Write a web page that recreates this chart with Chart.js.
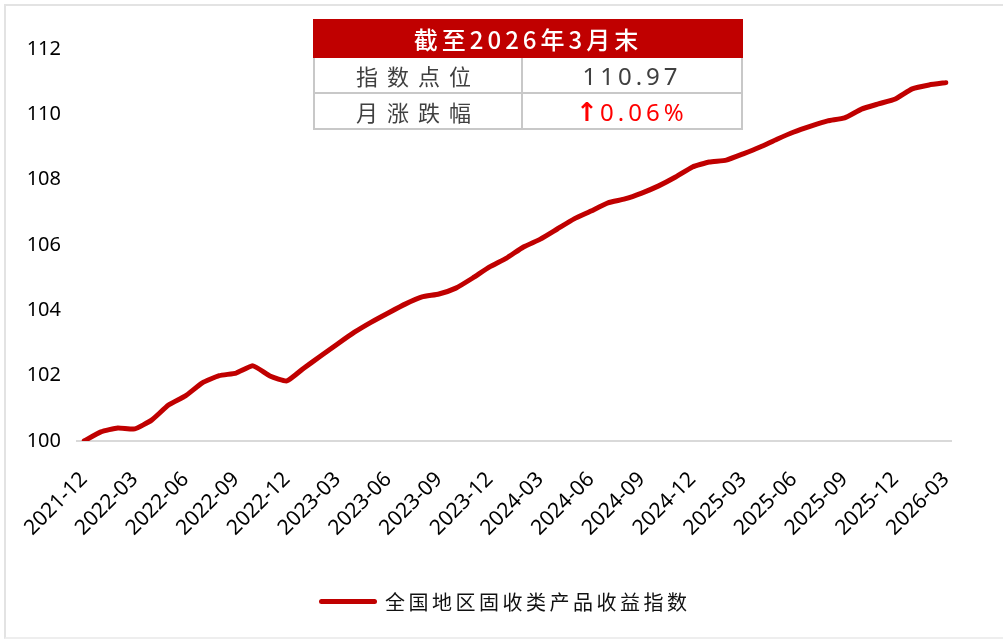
<!DOCTYPE html>
<html>
<head>
<meta charset="utf-8">
<script src="https://cdn.jsdelivr.net/npm/chart.js@4"></script>
<style>
  body { margin: 0; background: #fff; }
  #wrap { position: relative; width: 1003px; height: 639px; overflow: hidden; }
  #frame {
    position: absolute; left: 4px; top: 4px; width: 1010px; height: 631px;
    border-top: 2px solid #e3e3e3; border-left: 2px solid #e3e3e3; border-bottom: 2px solid #eeeeee;
  }
  #info {
    position: absolute; left: 313px; top: 19px; width: 430px;
    border-collapse: collapse; font-family: "Noto Sans CJK SC", sans-serif;
  }
  #info td { border: 2px solid #c8c8c8; text-align: center; padding: 0; }
  #info .head { background: #c00000; color: #fff; font-size: 24px; font-weight: 500; letter-spacing: 4px; height: 34px; border-color: #c00000; }
  #info .lab { width: 206px; height: 34px; font-size: 22px; letter-spacing: 9px; color: #404040; }
  #info .val { height: 34px; font-size: 24px; letter-spacing: 4px; color: #404040; font-family: "Noto Sans", sans-serif; }
  #info .up { color: #ff0000; }
  #info .arrow { font-family: "DejaVu Sans", sans-serif; font-weight: bold; font-size: 26px; letter-spacing: 0; margin-right: 2px; }
  #legend {
    position: absolute; left: 319px; top: 586px; height: 30px; display: flex; align-items: center;
    font-family: "Noto Sans CJK SC", sans-serif; font-size: 20px; letter-spacing: 3.5px; color: #111;
  }
  #legend .swatch { width: 58px; height: 5px; border-radius: 3px; background: #c00000; margin-right: 8px; }
</style>
</head>
<body>
<div id="wrap">
  <canvas id="myChart" width="1003" height="639"></canvas>
  <div id="frame"></div>
  <table id="info">
    <tr><td class="head" colspan="2">截至2026年3月末</td></tr>
    <tr><td class="lab">指数点位</td><td class="val">110.97</td></tr>
    <tr><td class="lab">月涨跌幅</td><td class="val up"><span class="arrow">↑</span>0.06%</td></tr>
  </table>
  <div id="legend"><span class="swatch"></span><span>全国地区固收类产品收益指数</span></div>
</div>
<script>
// Monthly labels, 2021-12 .. 2026-03
const months = [
    '2021-12',
    '2022-01', '2022-02', '2022-03', '2022-04', '2022-05', '2022-06',
    '2022-07', '2022-08', '2022-09', '2022-10', '2022-11', '2022-12',
    '2023-01', '2023-02', '2023-03', '2023-04', '2023-05', '2023-06',
    '2023-07', '2023-08', '2023-09', '2023-10', '2023-11', '2023-12',
    '2024-01', '2024-02', '2024-03', '2024-04', '2024-05', '2024-06',
    '2024-07', '2024-08', '2024-09', '2024-10', '2024-11', '2024-12',
    '2025-01', '2025-02', '2025-03', '2025-04', '2025-05', '2025-06',
    '2025-07', '2025-08', '2025-09', '2025-10', '2025-11', '2025-12',
    '2026-01', '2026-02', '2026-03'
];

// Index values
const indexValues = [
    100.00,
    100.28, 100.40, 100.37, 100.64, 101.10, 101.38,
    101.78, 102.00, 102.08, 102.30, 101.99, 101.84,
    102.23, 102.60, 102.97, 103.33, 103.64, 103.92,
    104.19, 104.41, 104.50, 104.68, 104.99, 105.33,
    105.60, 105.94, 106.18, 106.49, 106.80, 107.04,
    107.29, 107.41, 107.59, 107.81, 108.08, 108.39,
    108.54, 108.60, 108.79, 109.00, 109.24, 109.46,
    109.64, 109.80, 109.89, 110.16, 110.32, 110.47,
    110.78, 110.90, 110.97
];

const yTicks = [100, 102, 104, 106, 108, 110, 112];

// baseline under the plot, a bit wider than the data range
const baseline = {
    id: 'baseline',
    beforeDatasetsDraw(chart) {
        const { ctx, chartArea, scales } = chart;
        const y = scales.y.getPixelForValue(yTicks[0]);
        ctx.save();
        ctx.strokeStyle = '#d9d9d9';
        ctx.lineWidth = 2;
        ctx.beginPath();
        ctx.moveTo(chartArea.left - 8, y);
        ctx.lineTo(chartArea.right + 6, y);
        ctx.stroke();
        ctx.restore();
    }
};

const ctx = document.getElementById('myChart').getContext('2d');
const myChart = new Chart(ctx, {
    type: 'line',
    data: {
        labels: months,
        datasets: [{
            label: '全国地区固收类产品收益指数',
            data: indexValues,
            borderColor: '#c00000',
            borderWidth: 5,
            pointRadius: 0,
            tension: 0.15,
            borderJoinStyle: 'round',
            borderCapStyle: 'round'
        }]
    },
    options: {
        responsive: false,
        animation: false,
        layout: { padding: { top: 49, right: 57, left: 0, bottom: 56 } },
        plugins: {
            legend: { display: false },
            tooltip: { enabled: false }
        },
        scales: {
            x: {
                offset: false,
                grid: { display: false, drawTicks: false },
                border: { display: false },
                ticks: {
                    autoSkip: false,
                    minRotation: 45,
                    maxRotation: 45,
                    padding: 26,
                    color: '#000',
                    font: { family: 'Noto Sans', size: 21 },
                    callback: (v, i) => (i % 3 === 0 ? months[i] : '')
                },
                afterFit: (scale) => { scale.height = 142; }
            },
            y: {
                min: 100,
                max: 112,
                grid: { display: false, drawTicks: false },
                border: { display: false },
                afterBuildTicks: (scale) => { scale.ticks = yTicks.map(v => ({ value: v })); },
                ticks: {
                    padding: 23,
                    color: '#000',
                    font: { family: 'Noto Sans', size: 20 }
                },
                afterFit: (scale) => { scale.width = 84; }
            }
        }
    },
    plugins: [baseline]
});
</script>
</body>
</html>
